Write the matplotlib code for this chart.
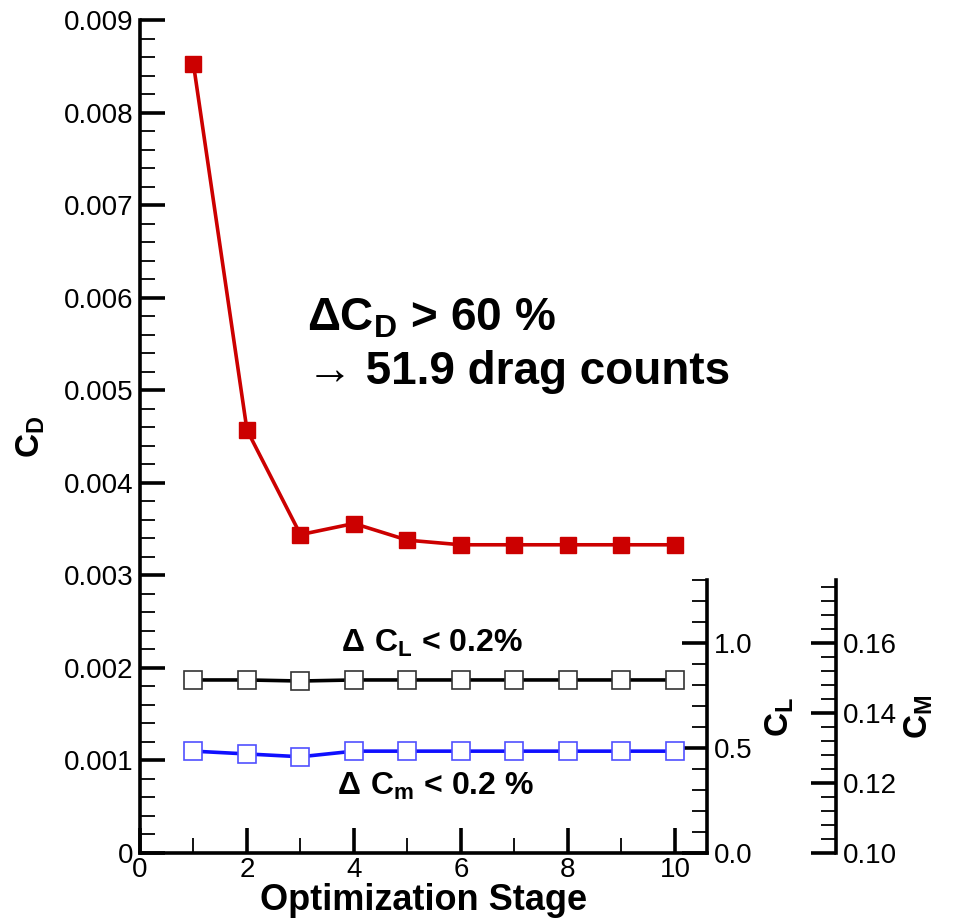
import numpy as np
import matplotlib
matplotlib.use("Agg")
from matplotlib import pyplot as plt
from matplotlib.ticker import MultipleLocator, FormatStrFormatter

plt.rcParams['font.family'] = ['Liberation Sans', 'DejaVu Sans']
plt.rcParams['mathtext.fontset'] = 'custom'
plt.rcParams['mathtext.rm'] = 'Liberation Sans'
plt.rcParams['mathtext.bf'] = 'Liberation Sans:bold'

# data
stage = [1, 2, 3, 4, 5, 6, 7, 8, 9, 10]
cd = [0.00852, 0.00457, 0.00344, 0.00356, 0.00338, 0.00333, 0.00333, 0.00333, 0.00333, 0.00333]
cl = [0.824, 0.824, 0.819, 0.824, 0.824, 0.824, 0.824, 0.824, 0.824, 0.824]
cm = [0.1291, 0.1283, 0.1275, 0.1291, 0.1291, 0.1291, 0.1291, 0.1291, 0.1291, 0.1291]

fig = plt.figure(figsize=(9.57, 9.22), dpi=100)
pos = [140/957, 69/922, 567/957, 833/922]
ax = fig.add_axes(pos)
h2 = 273/922
ax2 = fig.add_axes([pos[0], pos[1], pos[2], h2])
ax3 = fig.add_axes([pos[0], pos[1], pos[2], h2])

def tick_style(a):
    a.tick_params(which='major', length=18, width=2.6, direction='in', labelsize=20, pad=5)
    a.tick_params(which='minor', length=11, width=1.3, direction='in')

# CD axis
ax.plot(stage, cd, color='#cc0000', lw=2.6, marker='s', ms=12, mfc='#cc0000', mec='#cc0000', zorder=5)
ax.set_xlim(0, 10.6)
ax.set_ylim(0, 0.009)
ax.xaxis.set_major_locator(MultipleLocator(2))
ax.xaxis.set_minor_locator(MultipleLocator(1))
ax.yaxis.set_major_locator(MultipleLocator(0.001))
ax.yaxis.set_minor_locator(MultipleLocator(0.0002))
ax.yaxis.set_major_formatter(FormatStrFormatter('%g'))
ax.xaxis.set_major_formatter(FormatStrFormatter('%g'))
for s in ['top', 'right']:
    ax.spines[s].set_visible(False)
for s in ['left', 'bottom']:
    ax.spines[s].set_linewidth(2.6)
tick_style(ax)
ax.tick_params(axis='x', which='major', pad=3)
ax.set_xlabel('Optimization Stage', fontsize=26, fontweight='bold', labelpad=0)
ax.set_ylabel(r'$\mathbf{C_D}$', fontsize=24, labelpad=12)
ax.patch.set_visible(False)

# CL axis
ax2.plot(stage, cl, color='black', lw=2.6, marker='s', ms=12.5, mfc='white', mec='#333333', mew=1.2, zorder=4)
ax2.set_xlim(0, 10.6)
ax2.set_ylim(0, 1.3)
ax2.yaxis.tick_right()
ax2.yaxis.set_label_position('right')
ax2.yaxis.set_major_locator(MultipleLocator(0.5))
ax2.yaxis.set_minor_locator(MultipleLocator(0.1))
ax2.yaxis.set_major_formatter(FormatStrFormatter('%.1f'))
ax2.set_xticks([])
for s in ['top', 'left', 'bottom']:
    ax2.spines[s].set_visible(False)
ax2.spines['right'].set_linewidth(2.6)
tick_style(ax2)
ax2.set_ylabel(r'$\mathbf{C_L}$', fontsize=24, labelpad=8)
ax2.patch.set_visible(False)

# CM axis
ax3.plot(stage, cm, color='#1010ff', lw=2.6, marker='s', ms=12.5, mfc='white', mec='#5050ff', mew=1.2, zorder=4)
ax3.set_xlim(0, 10.6)
ax3.set_ylim(0.10, 0.178)
ax3.yaxis.tick_right()
ax3.yaxis.set_label_position('right')
ax3.spines['right'].set_position(('axes', (836 - 140) / 567))
ax3.yaxis.set_major_locator(MultipleLocator(0.02))
ax3.yaxis.set_minor_locator(MultipleLocator(0.004))
ax3.yaxis.set_major_formatter(FormatStrFormatter('%.2f'))
ax3.set_xticks([])
for s in ['top', 'left', 'bottom']:
    ax3.spines[s].set_visible(False)
ax3.spines['right'].set_linewidth(2.6)
tick_style(ax3)
ax3.set_ylabel(r'$\mathbf{C_M}$', fontsize=24, labelpad=4)
ax3.patch.set_visible(False)

# annotations
fig.text(307/957, 1 - 318/922, r'$\mathbf{\Delta C_D}$ > 60 %', fontsize=33, fontweight='bold', va='center', ha='left')
fig.text(307/957, 1 - 372/922, '\u2192 51.9 drag counts', fontsize=33, fontweight='bold', va='center', ha='left')
fig.text(432/957, 1 - 643/922, r'$\mathbf{\Delta\ C_L}$ < 0.2%', fontsize=23, fontweight='bold', va='center', ha='center')
fig.text(436/957, 1 - 786/922, r'$\mathbf{\Delta\ C_m}$ < 0.2 %', fontsize=23, fontweight='bold', va='center', ha='center')

fig.savefig('out.png', dpi=100, facecolor='white')
